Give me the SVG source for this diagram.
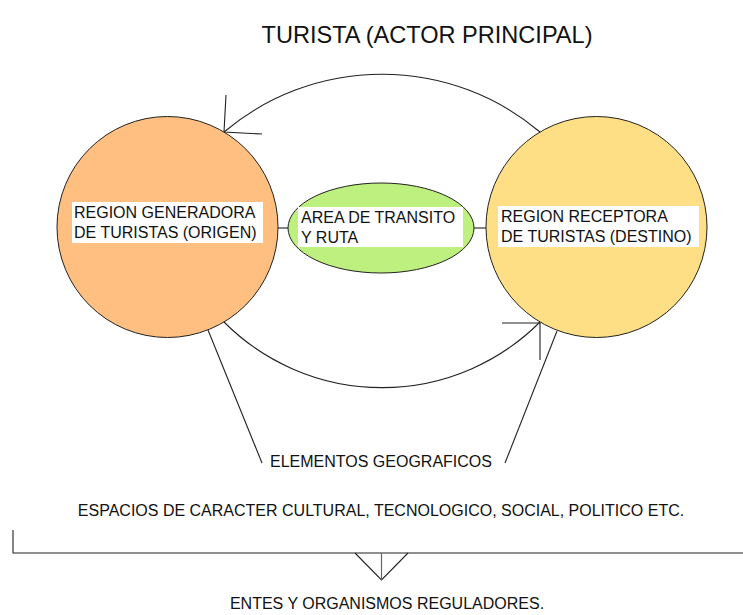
<svg xmlns="http://www.w3.org/2000/svg" width="743" height="615" viewBox="0 0 743 615">
<style>
text{font-family:"Liberation Sans",Arial,sans-serif;font-size:16px;fill:#111}
.node{stroke:#222;stroke-width:1}
.lbl{fill:#fff}
.ln{fill:none;stroke:#222;stroke-width:1.1}
.gr{fill:none;stroke:#666;stroke-width:1.6}
</style>
<rect width="743" height="615" fill="#fff"/>
<text x="427" y="43" text-anchor="middle" style="font-size:24px" textLength="331" lengthAdjust="spacingAndGlyphs">TURISTA (ACTOR PRINCIPAL)</text>
<g id="connectors">
<path class="ln" d="M540,132 A245,245 0 0 0 224,132"/>
<path class="ln" d="M226,95 L224,132 L262,134"/>
<path class="ln" d="M224,322 A223,223 0 0 0 540,322"/>
<path class="ln" d="M502,323 L540,323 L540,360"/>
<line class="gr" x1="278" y1="228" x2="289" y2="228"/>
<line class="gr" x1="474" y1="228" x2="486" y2="228"/>
<path class="ln" d="M208,330 L262,463"/>
<path class="ln" d="M557,331 L505,463"/>
<path class="ln" d="M13,530 L13,553 L743,553"/>
<path class="ln" d="M355,553 L381.5,580 L408,553"/>
<line class="gr" x1="381.5" y1="553" x2="381.5" y2="580" style="stroke-width:1.2"/>
</g>
<g id="origen">
<circle class="node" cx="167.5" cy="227" r="110.5" fill="#FFBF80"/>
<rect class="lbl" x="72" y="202" width="191" height="41"/>
<text x="74" y="218">REGION GENERADORA</text>
<text x="74" y="238">DE TURISTAS (ORIGEN)</text>
</g>
<g id="destino">
<circle class="node" cx="596.5" cy="227" r="110.5" fill="#FFDF85"/>
<rect class="lbl" x="498" y="206" width="201" height="41"/>
<text x="501" y="222">REGION RECEPTORA</text>
<text x="501" y="242">DE TURISTAS (DESTINO)</text>
</g>
<g id="transito">
<ellipse class="node" cx="381" cy="228" rx="93" ry="45" fill="#BDF07E"/>
<rect class="lbl" x="298" y="207" width="165" height="40"/>
<text x="301" y="223">AREA DE TRANSITO</text>
<text x="301" y="243">Y RUTA</text>
</g>
<g id="geograficos">
<text x="381" y="467" text-anchor="middle">ELEMENTOS GEOGRAFICOS</text>
</g>
<g id="espacios">
<text x="381" y="516" text-anchor="middle">ESPACIOS DE CARACTER CULTURAL, TECNOLOGICO, SOCIAL, POLITICO ETC.</text>
</g>
<g id="entes">
<text x="387" y="609" text-anchor="middle">ENTES Y ORGANISMOS REGULADORES.</text>
</g>
</svg>
